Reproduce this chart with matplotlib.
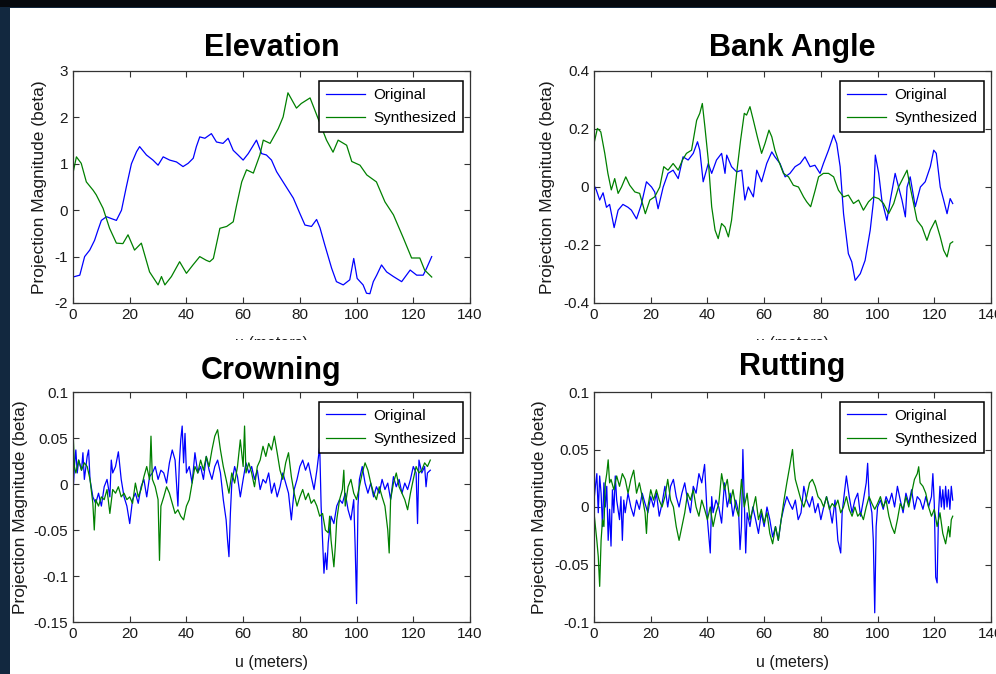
import matplotlib
matplotlib.use("Agg")
import matplotlib.pyplot as plt
from matplotlib.patches import Rectangle
from matplotlib.font_manager import FontProperties
from matplotlib.transforms import Bbox, TransformedBbox

# (u in meters, projection magnitude) for each signal
elev_orig = [(0, -1.44), (2.4, -1.4), (4.1, -1.0), (5.9, -0.86), (7.6, -0.65), (8.8, -0.43), (10, -0.22),
             (11.8, -0.14), (13.5, -0.18), (15.3, -0.22), (17.1, 0), (18.8, 0.5), (20.6, 1.0), (22.4, 1.26),
             (23.5, 1.37), (25.9, 1.19), (28.2, 1.08), (30, 0.97), (31.8, 1.15), (34.1, 1.08), (36.5, 1.04),
             (38.8, 0.94), (40.6, 1.01), (42.4, 1.12), (43.5, 1.37), (44.7, 1.58), (46.5, 1.55), (48.8, 1.65),
             (50.6, 1.47), (52.9, 1.44), (54.7, 1.55), (56.5, 1.29), (58.2, 1.19), (60, 1.08), (61.8, 1.22),
             (64.7, 1.51), (66.5, 1.22), (68.2, 1.19), (70, 1.08), (71.8, 0.83), (74.8, 0.54), (77.7, 0.26),
             (80, -0.07), (81.8, -0.32), (84.1, -0.35), (85.9, -0.2), (87.1, -0.38), (88.8, -0.75),
             (91.2, -1.25), (92.9, -1.54), (95.3, -1.61), (97.6, -1.5), (99, -1.04), (100.2, -1.47),
             (102.3, -1.61), (103.5, -1.79), (104.7, -1.8), (105.9, -1.54), (107.1, -1.4), (108.8, -1.18),
             (110.6, -1.33), (113, -1.43), (115.9, -1.54), (118.9, -1.29), (121.2, -1.4), (123.5, -1.4),
             (124.7, -1.25), (126.5, -1.0)]
elev_synth = [(0, 0.8), (1.2, 1.15), (2.9, 1.01), (4.7, 0.61), (7.1, 0.43), (8.2, 0.33), (10.6, 0.04),
              (12.9, -0.39), (15.3, -0.71), (17.6, -0.72), (19.4, -0.53), (21.7, -0.86), (24.1, -0.71),
              (27, -1.33), (30, -1.61), (31.2, -1.43), (32.4, -1.61), (34.7, -1.43), (37.6, -1.11),
              (40, -1.36), (42.3, -1.18), (44.7, -1.0), (47, -1.08), (48.2, -1.11), (49.5, -1.04),
              (51.8, -0.39), (54.2, -0.35), (56.5, -0.25), (57.7, 0.11), (59.5, 0.61), (61.2, 0.87),
              (63.6, 0.8), (65.9, 1.19), (67.1, 1.51), (69.5, 1.44), (72.4, 1.76), (74.1, 2.01), (75.8, 2.53),
              (78.8, 2.2), (80.5, 2.3), (83.6, 2.42), (86.4, 1.98), (89.4, 1.51), (91.7, 1.25), (93.5, 1.51),
              (96.5, 1.4), (98.3, 1.05), (101.2, 0.97), (103.6, 0.76), (107, 0.61), (110, 0.18), (113, -0.1),
              (116.5, -0.6), (119.4, -1.03), (122.3, -1.03), (124, -1.29), (126.5, -1.44)]

bank_orig = [(0, 0.006), (0.8, -0.01), (2, -0.045), (3.2, -0.02), (4.4, -0.07), (5.5, -0.06), (7.1, -0.14),
             (8.5, -0.08), (10.2, -0.06), (12, -0.07), (13.2, -0.08), (15, -0.11), (16.7, -0.06), (18.5, 0.018),
             (20.3, 0), (21.4, -0.017), (22.6, -0.075), (24.4, 0), (26.1, 0.047), (27.9, 0.058), (29.7, 0.029),
             (31.4, 0.104), (33.2, 0.093), (35, 0.116), (36.5, 0.156), (37.3, 0.127), (38.5, 0.018),
             (40.3, 0.081), (41.5, 0.047), (43.2, 0.093), (45, 0.116), (46.2, 0.047), (46.8, 0.11), (48.5, 0.07),
             (50.3, 0.052), (52.1, 0.058), (53.2, -0.045), (54.4, 0), (56.2, -0.034), (57.4, 0.058),
             (59.1, 0.018), (60.9, 0.081), (62.7, 0.121), (63.8, 0.104), (65.6, 0.081), (67.4, 0.035),
             (69.1, 0.047), (70.9, 0.07), (72.7, 0.081), (74.4, 0.104), (76.2, 0.07), (77.9, 0.075),
             (79.7, 0.047), (80.9, 0.081), (82.7, 0.127), (84.5, 0.179), (85.6, 0.15), (86.8, 0.07),
             (88, -0.092), (89.7, -0.23), (90.9, -0.258), (92.1, -0.322), (93.9, -0.299), (95.6, -0.253),
             (97.4, -0.149), (98.6, -0.045), (99.2, 0.11), (100.4, 0.047), (101.5, -0.045), (103.3, -0.115),
             (104.5, -0.045), (106.2, 0.047), (107.4, 0), (108.6, -0.045), (109.8, -0.103), (110.4, 0),
             (111.5, 0.035), (113.3, -0.068), (115.1, 0), (116.8, 0.018), (118.6, 0.07), (119.8, 0.127),
             (120.7, 0.116), (122.1, 0), (123.3, -0.045), (124.5, -0.092), (125.6, -0.04), (126.5, -0.057)]
bank_synth = [(0, 0.15), (1.2, 0.202), (2.4, 0.19), (3.8, 0.116), (4.9, 0.047), (6.1, -0.01), (7.3, 0.029),
              (8.5, -0.022), (9.7, 0), (11.2, 0.035), (12.6, 0.006), (14.4, -0.017), (16.1, -0.022),
              (18.1, -0.092), (19.7, -0.045), (21.4, -0.034), (23.2, 0), (24.6, 0.07), (26.1, 0.058),
              (27.9, 0.081), (29.7, 0.058), (31.2, 0.093), (32.6, 0.116), (34.4, 0.127), (36.2, 0.23),
              (37.3, 0.254), (38.2, 0.288), (39.1, 0.208), (40.3, 0.093), (41.5, -0.068), (42.7, -0.149),
              (43.8, -0.178), (45, -0.126), (46.2, -0.138), (47.4, -0.172), (48.5, -0.115), (50.3, 0.047),
              (51.7, 0.162), (53, 0.254), (53.8, 0.248), (55, 0.277), (56.2, 0.23), (57.6, 0.173), (59.1, 0.116),
              (60.3, 0.15), (61.7, 0.196), (62.7, 0.173), (63.8, 0.127), (65, 0.093), (66.8, 0.047),
              (68.6, 0.035), (70.3, 0.006), (72.1, 0), (73.9, -0.034), (75, -0.051), (76.4, -0.068),
              (78, -0.011), (79.2, 0.035), (80.9, 0.047), (82.7, 0.047), (84.5, 0.035), (86.2, -0.011),
              (88, -0.034), (89.7, -0.028), (91.5, -0.057), (93.3, -0.045), (95, -0.08), (96.8, -0.051),
              (98.6, -0.034), (100.4, -0.04), (102.1, -0.057), (103.9, -0.092), (105.7, -0.057), (107.4, 0),
              (109.2, 0.035), (110.4, 0.058), (111.5, 0), (112.7, -0.057), (113.9, -0.115), (115.7, -0.138),
              (117.4, -0.184), (118.6, -0.149), (120.4, -0.115), (122.1, -0.172), (123.3, -0.218),
              (124.5, -0.241), (125.6, -0.195), (126.5, -0.189)]

crown_orig = [(0, -0.01), (0.5, 0.019), (1, 0.037), (1.5, 0.012), (2, 0.026), (3, 0.015), (3.5, 0.034),
              (4, 0.005), (5, 0.03), (5.5, 0.037), (6, 0.005), (7, -0.014), (8, -0.021), (9, -0.01),
              (10, -0.024), (11, -0.003), (12, 0.005), (13, -0.014), (13.5, 0.026), (14, 0.012), (15, 0.019),
              (16, 0.035), (17, 0.005), (18, -0.014), (19, -0.024), (20, -0.043), (21, -0.017), (22, -0.01),
              (23, -0.021), (24, -0.003), (25, 0.005), (26, -0.014), (27, 0.008), (28, 0.012), (29, 0.019),
              (30, 0.005), (31, 0.015), (32, 0.012), (33, 0.001), (34, 0.023), (35, 0.037), (36, 0.026),
              (37, -0.024), (37.5, 0.023), (38, 0.048), (38.5, 0.063), (39, 0.023), (39.5, 0.055), (40, 0.012),
              (41, 0.019), (42, 0.001), (43, 0.034), (44, 0.012), (45, 0.019), (46, 0.005), (47, 0.03),
              (48, 0.015), (49, 0.005), (50, 0.019), (51, 0.026), (52, 0.012), (53, -0.017), (54, -0.039),
              (54.5, -0.061), (55, -0.079), (55.5, -0.032), (56, 0.001), (57, 0.019), (58, 0.008), (59, -0.014),
              (60, 0.005), (61, 0.023), (62, 0.012), (63, 0.019), (64, 0.005), (65, 0.015), (66, -0.006),
              (67, 0.005), (68, 0.001), (69, 0.012), (70, -0.01), (71, 0.001), (72, -0.014), (73, -0.003),
              (74, 0.012), (75, 0.001), (76, -0.01), (77, -0.039), (78, -0.006), (79, 0.005), (80, 0.019),
              (81, 0.026), (82, 0.015), (83, 0.023), (84, 0.008), (85, -0.006), (86, 0.015), (87, 0.041),
              (87.5, -0.024), (88, -0.061), (88.5, -0.097), (89, -0.075), (89.5, -0.093), (90, -0.064),
              (91, -0.035), (92, -0.043), (93, -0.024), (94, -0.017), (95, -0.021), (96, -0.01), (97, -0.028),
              (98, -0.039), (99, -0.017), (99.5, -0.068), (100, -0.13), (100.5, -0.024), (101, 0.005),
              (102, 0.019), (103, 0.001), (104, -0.01), (105, 0.001), (106, -0.014), (107, -0.003), (108, -0.01),
              (109, 0.005), (110, -0.006), (111, 0.001), (112, -0.017), (113, 0.008), (114, -0.003),
              (115, 0.005), (116, -0.01), (117, 0.001), (118, -0.006), (119, 0.005), (120, 0.019), (121, 0.012),
              (121.5, -0.043), (122, 0.026), (123, 0.012), (124, 0.019), (124.5, -0.003), (125, 0.012),
              (126, 0.015)]
crown_synth = [(0, 0.059), (0.5, 0.019), (1, 0.012), (2, 0.026), (3, 0.015), (4, 0.023), (5, 0.019),
               (6, 0.005), (7, -0.021), (7.5, -0.05), (8, -0.017), (9, -0.024), (10, -0.014), (11, -0.017),
               (12, -0.006), (13, -0.032), (14, -0.006), (15, -0.01), (16, -0.003), (17, -0.014), (18, -0.01),
               (19, -0.017), (20, -0.014), (21, -0.021), (22, 0.001), (23, -0.014), (24, -0.006), (25, 0.008),
               (26, 0.019), (27, 0.005), (27.5, 0.052), (28, 0.005), (29, -0.003), (30, -0.017), (30.5, -0.083),
               (31, -0.024), (32, -0.014), (33, -0.003), (34, -0.01), (35, -0.021), (36, -0.032), (37, -0.028),
               (38, -0.035), (39, -0.039), (40, -0.024), (41, -0.017), (42, 0.001), (43, 0.019), (44, 0.012),
               (45, 0.026), (46, 0.015), (47, 0.03), (48, 0.019), (49, 0.037), (50, 0.052), (51, 0.059),
               (52, 0.037), (53, 0.019), (54, 0.005), (55, -0.01), (56, 0.012), (57, 0.001), (58, 0.019),
               (59, 0.048), (60, 0.019), (60.5, 0.063), (61, 0.012), (62, 0.023), (63, 0.012), (64, -0.003),
               (65, 0.019), (66, 0.026), (67, 0.041), (68, 0.03), (69, 0.044), (70, 0.037), (71, 0.052),
               (72, 0.034), (73, 0.015), (74, 0.005), (75, 0.023), (76, 0.034), (77, 0.008), (78, -0.01),
               (79, -0.024), (80, -0.014), (81, -0.006), (82, -0.017), (83, -0.01), (84, -0.021), (85, -0.017),
               (86, -0.024), (87, -0.035), (88, -0.032), (89, -0.05), (90, -0.053), (90.5, -0.035), (91, -0.061),
               (92, -0.09), (92.5, -0.068), (93, -0.039), (94, -0.017), (95, -0.006), (95.5, 0.015), (96, -0.024),
               (97, -0.003), (98, 0.005), (99, -0.01), (100, -0.017), (101, -0.003), (102, 0.012), (103, 0.023),
               (104, 0.015), (105, 0.001), (106, -0.01), (107, -0.017), (108, -0.003), (109, -0.014),
               (110, -0.024), (111, -0.05), (111.5, -0.075), (112, -0.017), (113, 0.001), (114, 0.012),
               (115, -0.003), (116, -0.01), (117, -0.017), (118, -0.028), (119, -0.01), (120, 0.005),
               (121, 0.019), (122, 0.012), (123, 0.015), (124, 0.023), (125, 0.019), (126, 0.026)]

rut_orig = [(0, 0.006), (0.5, 0.018), (1, 0.029), (1.5, -0.005), (2, 0.027), (2.5, 0.012), (3, -0.017),
            (3.5, 0.021), (4, 0), (4.5, 0.018), (5, -0.029), (5.5, -0.002), (6, -0.034), (6.5, 0.015),
            (7, -0.005), (7.5, 0.027), (8, 0.006), (9, -0.011), (9.5, 0.009), (10, -0.029), (10.5, 0.006),
            (11, -0.005), (12, 0.012), (13, 0), (14, -0.008), (15, 0.006), (16, -0.002), (17, 0.012), (18, 0.003),
            (19, -0.005), (20, 0.009), (21, 0), (22, 0.012), (23, -0.008), (24, 0.003), (25, 0.018), (26, 0),
            (27, 0.018), (28, 0.024), (29, 0.009), (30, 0), (31, 0.012), (32, 0.021), (33, 0.006), (34, -0.005),
            (35, 0.018), (36, 0.012), (37, 0.029), (38, 0.021), (39, 0.037), (40, -0.011), (41, -0.04),
            (41.5, 0.009), (42, -0.005), (43, 0.006), (44, 0), (45, -0.014), (46, 0.021), (47, 0), (48, 0.012),
            (49, -0.008), (50, 0.006), (51, -0.005), (51.5, -0.037), (52, -0.017), (52.5, 0.05), (53, 0.006),
            (53.5, -0.04), (54, -0.005), (55, -0.017), (56, 0), (57, -0.011), (58, -0.023), (59, -0.005),
            (60, -0.017), (61, 0), (62, -0.011), (63, -0.026), (64, -0.017), (65, -0.029), (66, -0.011), (67, 0),
            (68, 0.009), (69, 0.003), (70, -0.002), (71, 0.006), (72, -0.011), (73, -0.005), (74, 0.018),
            (75, 0.006), (76, 0), (77, 0.009), (78, -0.005), (79, 0.003), (80, -0.011), (81, 0), (82, 0.009),
            (83, 0), (84, -0.014), (85, 0.006), (86, -0.029), (87, -0.04), (87.5, -0.005), (88, 0.006),
            (89, 0.027), (90, 0.009), (91, -0.005), (92, 0.006), (93, 0.012), (94, -0.008), (95, 0.006),
            (96, 0.021), (96.5, 0.038), (97, 0.009), (98, -0.005), (98.5, -0.029), (99, -0.092), (99.5, -0.017),
            (100, 0), (101, 0.006), (102, -0.002), (103, 0.009), (104, 0.003), (105, 0.012), (106, 0),
            (107, 0.018), (108, 0.006), (109, -0.005), (110, 0.012), (111, 0.003), (112, 0.015), (113, -0.002),
            (114, 0.009), (115, 0.006), (116, -0.002), (117, 0.009), (118, 0), (119, 0.009), (119.5, 0.029),
            (120, 0.003), (120.5, -0.061), (121, -0.066), (121.5, -0.005), (122, 0.018), (122.5, 0),
            (123, 0.015), (123.5, -0.002), (124, 0.018), (124.5, 0), (125, 0.015), (125.5, -0.002),
            (126, 0.018), (126.5, 0.006)]
rut_synth = [(0, -0.005), (0.5, -0.017), (1, -0.029), (1.5, -0.043), (2, -0.069), (2.5, -0.029), (3, -0.011),
             (3.5, -0.017), (4, 0.021), (4.5, 0.029), (5, 0.041), (5.5, 0.021), (6, 0.024), (7, 0.015),
             (8, 0.027), (9, 0.018), (10, 0.029), (11, 0.024), (12, 0.012), (13, 0.024), (14, 0.032), (15, 0.012),
             (16, 0.021), (17, 0.009), (18, -0.005), (18.5, -0.023), (19, 0), (20, 0.015), (21, 0.006),
             (22, 0.015), (23, 0.006), (24, 0), (25, 0.009), (26, 0.024), (27, 0.006), (28, 0), (29, -0.017),
             (30, -0.029), (31, -0.017), (32, -0.005), (33, 0.012), (34, 0.006), (35, 0.015), (36, 0),
             (37, -0.008), (38, 0.006), (39, -0.002), (40, -0.011), (41, 0), (42, -0.017), (43, -0.005),
             (44, 0.003), (45, 0.029), (46, 0.015), (47, 0.024), (48, 0.003), (49, 0.015), (50, 0),
             (51, -0.008), (52, 0.024), (53, 0), (54, 0.012), (55, -0.011), (56, -0.002), (57, 0.009),
             (58, -0.011), (59, -0.002), (60, -0.014), (61, -0.005), (62, -0.023), (63, -0.032), (64, -0.017),
             (65, -0.029), (66, -0.011), (67, 0.006), (68, 0.021), (69, 0.035), (70, 0.05), (70.5, 0.035),
             (71, 0.024), (72, 0.015), (73, 0.006), (74, 0), (75, 0.009), (76, 0.021), (77, 0.024), (78, 0.018),
             (79, 0.009), (80, 0.006), (81, 0), (82, 0.009), (83, -0.002), (84, 0.003), (85, 0), (86, 0.006),
             (87, -0.005), (88, 0), (89, 0.009), (90, -0.002), (91, -0.008), (92, 0), (93, -0.008), (94, -0.005),
             (95, -0.011), (96, 0), (97, 0.009), (98, 0.003), (99, -0.002), (100, 0.003), (101, 0.009), (102, 0),
             (103, 0.006), (104, -0.008), (105, -0.017), (106, -0.023), (107, -0.011), (108, 0.003),
             (109, -0.002), (110, 0.009), (111, 0), (112, 0.012), (113, 0.024), (114, 0.029), (114.5, 0.035),
             (115, 0.021), (116, 0.018), (117, 0.012), (118, 0), (119, -0.008), (120, -0.002), (121, -0.017),
             (122, -0.005), (123, -0.023), (124, -0.032), (125, -0.017), (125.5, -0.026), (126, -0.011),
             (126.5, -0.008)]

titles = ["Elevation", "Bank Angle", "Crowning", "Rutting"]
x_ticks = [0, 20, 40, 60, 80, 100, 120, 140]
y_ticks = [[-2, -1, 0, 1, 2, 3], [-0.4, -0.2, 0, 0.2, 0.4],
           [-0.15, -0.1, -0.05, 0, 0.05, 0.1], [-0.1, -0.05, 0, 0.05, 0.1]]
y_ticklabels = [["-2", "-1", "0", "1", "2", "3"], ["-0.4", "-0.2", "0", "0.2", "0.4"],
                ["-0.15", "-0.1", "-0.05", "0", "0.05", "0.1"], ["-0.1", "-0.05", "0", "0.05", "0.1"]]
series = [(elev_orig, elev_synth), (bank_orig, bank_synth),
          (crown_orig, crown_synth), (rut_orig, rut_synth)]

small = FontProperties(family=["Liberation Sans", "DejaVu Sans"], size=11)
label_font = FontProperties(family=["Liberation Sans", "DejaVu Sans"], size=11.5)
regular = FontProperties(family=["Liberation Sans", "DejaVu Sans"], size=12.5)
bold = FontProperties(family=["Liberation Sans", "DejaVu Sans"], size=22, weight="bold")

W, H = 996, 674
fig = plt.figure(figsize=(W / 100, H / 100), dpi=100, facecolor="#12283f")
fig.patches.append(Rectangle((0, (H - 7) / H), 1, 7 / H, transform=fig.transFigure,
                             facecolor="#06090e", edgecolor="none", zorder=-10))
fig.patches.append(Rectangle((10 / W, 0), 1, (H - 8) / H, transform=fig.transFigure,
                             facecolor="white", edgecolor="none", zorder=-9))

# axes boxes in pixels: left, top, right, bottom
boxes = [(73, 71, 470, 303), (594, 71, 991, 303), (73, 392, 470, 622), (594, 392, 991, 622)]
ylabel_x = [-0.066, -0.098, -0.113, -0.118]
title_pad = [11, 11, 9, 12]

for i, (l, t, r, b) in enumerate(boxes):
    ax = fig.add_axes([l / W, (H - b) / H, (r - l) / W, (b - t) / H])
    orig, synth = series[i]
    ax.plot([p[0] for p in orig], [p[1] for p in orig], color=(0, 0, 1), lw=0.9, label="Original")
    ax.plot([p[0] for p in synth], [p[1] for p in synth], color=(0, 0.5, 0), lw=0.9, label="Synthesized")

    ax.set_xlim(0, 140)
    ax.set_ylim(y_ticks[i][0], y_ticks[i][-1])
    ax.set_xticks(x_ticks)
    ax.set_xticklabels([str(v) for v in x_ticks], fontproperties=small, color="#1a1a1a")
    ax.set_yticks(y_ticks[i])
    ax.set_yticklabels(y_ticklabels[i], fontproperties=small, color="#1a1a1a")
    ax.tick_params(direction="in", length=4.5, width=0.8, top=True, right=True, pad=3.5, color="#333333")
    for s in ax.spines.values():
        s.set_color("#333333")
        s.set_linewidth(0.9)

    ax.set_title(titles[i], fontproperties=bold, pad=title_pad[i])
    ax.set_ylabel("Projection Magnitude (beta)", fontproperties=regular, color="#1a1a1a")
    ax.yaxis.set_label_coords(ylabel_x[i], 0.5)
    ax.set_xlabel("u (meters)", fontproperties=label_font, color="#1a1a1a", labelpad=10.5)

    leg = ax.legend(loc="upper right", bbox_to_anchor=(0.982, 0.957), prop=small,
                    fancybox=False, framealpha=1, edgecolor="black", borderaxespad=0,
                    handlelength=2.6, handletextpad=0.5, labelspacing=0.6, borderpad=0.45)
    leg.get_frame().set_linewidth(1.1)

    # upper row: only the top sliver of the x label shows above the lower panels
    if i < 2:
        clip = TransformedBbox(Bbox([[0, (H - 340) / H], [1, 1]]), fig.transFigure)
        ax.xaxis.label.set_clip_box(clip)
        ax.xaxis.label.set_clip_on(True)

fig.savefig("out.png", dpi=100, facecolor=fig.get_facecolor())
